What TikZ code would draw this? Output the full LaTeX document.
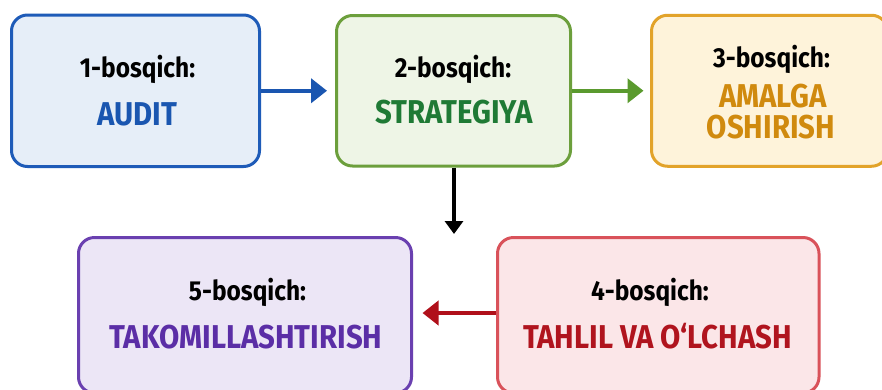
\documentclass[tikz,border=0pt]{standalone}
\usepackage{fontspec}
\setmainfont{Fira Sans}[FakeStretch=0.89]
\usetikzlibrary{arrows.meta}
\definecolor{bA}{HTML}{1E5BB8}\definecolor{fA}{HTML}{E6EEF8}\definecolor{tA}{HTML}{1A56B0}
\definecolor{bB}{HTML}{6C9F3C}\definecolor{fB}{HTML}{EEF5E6}\definecolor{tB}{HTML}{1F7A35}
\definecolor{bC}{HTML}{E2A32A}\definecolor{fC}{HTML}{FEF3DA}\definecolor{tC}{HTML}{D08A0E}
\definecolor{bD}{HTML}{D9525A}\definecolor{fD}{HTML}{FBE6E8}\definecolor{tD}{HTML}{B0141E}
\definecolor{bE}{HTML}{6A40B0}\definecolor{fE}{HTML}{ECE6F6}\definecolor{tE}{HTML}{5B2EA6}
\definecolor{aB}{HTML}{5A9A2E}\definecolor{aD}{HTML}{B0101A}
\begin{document}
\begin{tikzpicture}[x=1pt,y=-1pt,
  stagebox/.style={draw, rounded corners=16pt, line width=3pt, inner sep=0pt},
  lbl/.style={font=\fontsize{27.5}{30}\selectfont\bfseries, inner sep=0pt, anchor=base, text=black},
  ttl/.style={font=\fontsize{33}{36}\selectfont\bfseries, inner sep=0pt, anchor=base},
  conn/.style={line width=4.3pt, -{Triangle[length=16pt,width=24pt]}}]
\useasboundingbox (0,0) rectangle (882,389);
\clip (0,0) rectangle (882,389);
\fill[white] (0,0) rectangle (882,389);
% boxes
\node[stagebox, draw=bA, fill=fA, minimum width=248pt, minimum height=151.5pt] (box1) at (135.5,90.75) {};
\node[stagebox, draw=bB, fill=fB, minimum width=234pt, minimum height=150.5pt] (box2) at (453.5,90.75) {};
\node[stagebox, draw=bC, fill=fC, minimum width=236pt, minimum height=151pt] (box3) at (769.5,90.75) {};
\node[stagebox, draw=bD, fill=fD, minimum width=321.5pt, minimum height=155.5pt] (box4) at (658.25,315.25) {};
\node[stagebox, draw=bE, fill=fE, minimum width=333pt, minimum height=155.5pt] (box5) at (245,315.25) {};
% texts
\node[lbl] (l1) at (137.5,77) {1-bosqich:};
\node[ttl, text=tA] (t1) at (137.5,125) {AUDIT};
\node[lbl] (l2) at (453,77) {2-bosqich:};
\node[ttl, text=tB] (t2) at (454,123) {STRATEGIYA};
\node[lbl] (l3) at (771.5,67) {3-bosqich:};
\node[ttl, text=tC] (t3) at (773,107) {AMALGA};
\node[ttl, text=tC] (t3b) at (771,138) {OSHIRISH};
\node[lbl] (l4) at (650,300) {4-bosqich:};
\node[ttl, text=tD] (t4) at (657.5,348) {TAHLIL VA O‘LCHASH};
\node[lbl] (l5) at (247.5,300) {5-bosqich:};
\node[ttl, text=tE] (t5) at (246,348) {TAKOMILLASHTIRISH};
% connectors
\coordinate (down) at (454,234);
\draw[conn, draw=tA, fill=tA, shorten >=8pt] (box1.east) -- (box2.west);
\draw[conn, draw=aB, fill=aB, shorten >=6.5pt] (box2.east) -- (box3.west);
\draw[line width=3.5pt, -{Triangle[length=13pt,width=18pt]}] (box2.south -| down) -- (down);
\draw[conn, draw=aD, fill=aD, shorten >=9.5pt] (box4.west |- 0,313) -- (box5.east |- 0,313);
\end{tikzpicture}
\end{document}
